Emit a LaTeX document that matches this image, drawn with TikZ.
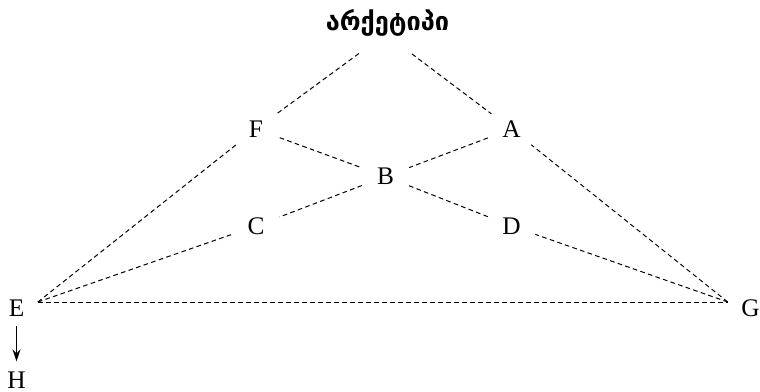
\documentclass[tikz,border=0pt]{standalone}
\usepackage{fontspec}
\setmainfont{Liberation Serif}
\newfontfamily\geofont{DejaVu Sans}
\usetikzlibrary{arrows.meta}

\begin{document}
\begin{tikzpicture}[
            x = 0.75pt, y = -0.75pt, % pixel grid, y runs downwards
            > = {Stealth[length=9pt, width=6pt]}, % arrow head style
            font = \fontsize{19}{22}\selectfont
        ]

        \tikzstyle{vtx}=[
            circle,
            inner sep = 0pt,
            minimum size = 37.5pt
        ]
        \tikzstyle{tip}=[
            inner xsep = 10pt,
            inner ysep = 0pt,
            text height = 21pt,
            text depth = 0pt
        ]
        \tikzstyle{link}=[
            line width = 0.75pt,
            dash pattern = on 3.5pt off 2.5pt
        ]

        \useasboundingbox (0,0) rectangle (760,392);

        \node (T) at (387.5,23) {\geofont\bfseries\fontsize{19}{22}\selectfont არქეტიპი};
        \coordinate (apex) at (385.5,34);
        \node[vtx] (F) at (256,129) {F};
        \node[vtx] (A) at (511.5,129) {A};
        \node[vtx] (B) at (385.5,176.5) {B};
        \node[vtx] (C) at (256,226) {C};
        \node[vtx] (D) at (511.5,226) {D};
        \node[tip] (E) at (16.5,302) {E};
        \node[tip] (G) at (750.5,302) {G};
        \node[inner sep = 0pt] (H) at (16.5,380) {H};

	\path[link] (apex) edge [shorten <= 24.75pt] (F);
	\path[link] (apex) edge [shorten <= 24.75pt] (A);
	\path[link] (F) edge (B);
	\path[link] (A) edge (B);
	\path[link] (B) edge (C);
	\path[link] (B) edge (D);
	\path[link] (E.east) edge (F);
	\path[link] (E.east) edge (C);
	\path[link] (G.west) edge (A);
	\path[link] (G.west) edge (D);
	\path[link] (E.east) edge (G.west);

        \draw[->, line width = 1pt, shorten <= 7.5pt, shorten >= 7.5pt] (E.south) -- (H.north);
    \end{tikzpicture}
\end{document}
